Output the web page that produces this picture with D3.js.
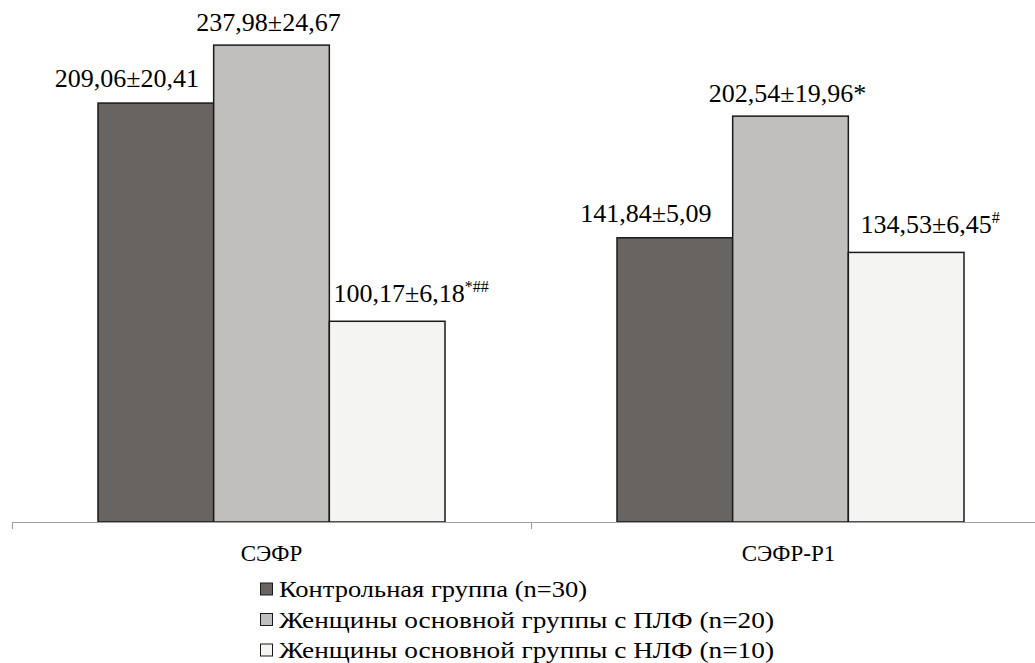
<!DOCTYPE html>
<html>
<head>
<meta charset="utf-8">
<script src="https://cdn.jsdelivr.net/npm/d3@7"></script>
<style>
  body { margin: 0; background: #fff; }
</style>
</head>
<body>
<svg id="chart" width="1035" height="663"></svg>
<script>
// categories and series
var categories = ['СЭФР', 'СЭФР-Р1'];
var seriesNames = [
  'Контрольная группа (n=30)',
  'Женщины основной группы с ПЛФ (n=20)',
  'Женщины основной группы с НЛФ (n=10)'
];
var control = [209.06, 141.84];
var plf = [237.98, 202.54];
var nlf = [100.17, 134.53];
var labels = [
  ['209,06±20,41', '141,84±5,09'],
  ['237,98±24,67', '202,54±19,96*'],
  ['100,17±6,18', '134,53±6,45']
];
var labelSup = [['', ''], ['', ''], ['*##', '#']];

var colors = ['#686462', '#c0bfbd', '#f4f4f2'];
var FONT = "'Liberation Serif', 'Times New Roman', serif";

// excel-style nudges of the value labels, per series
var labelDx = [-29, -3, 24];
var labelDy = [-16, -14, -19];
// legend text widths as drawn in the source
var legendWidths = [308, 495, 495];

var svg = d3.select('#chart');
var baseY = 522;

var x0 = d3.scaleBand().domain(categories).range([12, 1050]);
var x1 = d3.scaleBand().domain([0, 1, 2]).range([86, x0.bandwidth() - 86]);
var y = d3.scaleLinear().domain([0, 260]).range([baseY, 1]);

var seriesVals = [control, plf, nlf];

// bars
seriesVals.forEach(function(vals, s) {
  svg.append('g').selectAll('rect')
    .data(vals)
    .enter().append('rect')
    .attr('x', function(d, i) { return x0(categories[i]) + x1(s); })
    .attr('y', function(d) { return y(d); })
    .attr('width', x1.bandwidth())
    .attr('height', function(d) { return baseY - y(d); })
    .style('fill', colors[s])
    .style('stroke', '#1a1a1a')
    .style('stroke-width', 1.5);
});

// value labels
seriesVals.forEach(function(vals, s) {
  vals.forEach(function(v, i) {
    var t = svg.append('text')
      .attr('x', x0(categories[i]) + x1(s) + x1.bandwidth() / 2 + labelDx[s])
      .attr('y', y(v) + labelDy[s])
      .attr('text-anchor', 'middle')
      .style('font-family', FONT)
      .style('font-size', '26px')
      .style('fill', '#000');
    t.append('tspan').text(labels[s][i]);
    if (labelSup[s][i]) {
      t.append('tspan')
        .attr('dy', -10)
        .style('font-size', '16px')
        .text(labelSup[s][i]);
    }
  });
});

// axis
var axis = svg.append('g');
axis.append('line')
  .attr('x1', x0.range()[0]).attr('x2', 1035)
  .attr('y1', baseY + 0.5).attr('y2', baseY + 0.5)
  .style('stroke', '#a0a0a0').style('stroke-width', 1.2);
[x0.range()[0], x0(categories[1])].forEach(function(tx) {
  axis.append('line')
    .attr('x1', tx + 0.5).attr('x2', tx + 0.5)
    .attr('y1', baseY).attr('y2', baseY + 7)
    .style('stroke', '#a0a0a0').style('stroke-width', 1.2);
});
categories.forEach(function(c, i) {
  axis.append('text')
    .attr('x', x0(c) + x0.bandwidth() / 2 - i * 2)
    .attr('y', 561)
    .attr('text-anchor', 'middle')
    .style('font-family', FONT)
    .style('font-size', '23px')
    .text(c);
});

// legend
var legend = svg.append('g').attr('transform', 'translate(260,0)');
seriesNames.forEach(function(name, s) {
  var ly = 589 + s * 30.5;
  legend.append('rect')
    .attr('x', 0.5).attr('y', ly - 6)
    .attr('width', 12).attr('height', 12)
    .style('fill', colors[s])
    .style('stroke', '#1a1a1a')
    .style('stroke-width', 1);
  legend.append('text')
    .attr('x', 19).attr('y', ly + 8)
    .attr('textLength', legendWidths[s])
    .attr('lengthAdjust', 'spacingAndGlyphs')
    .style('font-family', FONT)
    .style('font-size', '23px')
    .text(name);
});
</script>
</body>
</html>
